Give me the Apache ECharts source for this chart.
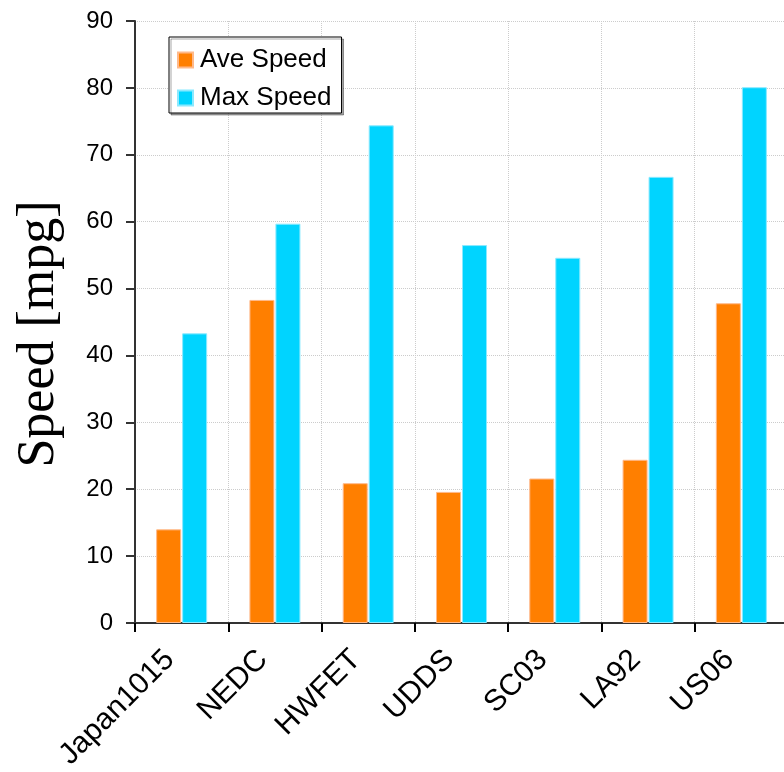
<!DOCTYPE html>
<html>
<head>
<meta charset="utf-8">
<script src="https://cdn.jsdelivr.net/npm/echarts@6/dist/echarts.min.js"></script>
<style>
html,body{margin:0;padding:0;background:#fff;}
#chart{width:784px;height:772px;}
</style>
</head>
<body>
<div id="chart"></div>
<script>
const categories = ['Japan1015', 'NEDC', 'HWFET', 'UDDS', 'SC03', 'LA92', 'US06'];
const aveSpeed = [14.0, 48.3, 20.9, 19.6, 21.6, 24.4, 47.8];
const maxSpeed = [43.3, 59.7, 74.4, 56.5, 54.6, 66.7, 80.1];
const yTicks = { min: 0, max: 90, interval: 10 };

const chart = echarts.init(document.getElementById('chart'), null, { renderer: 'canvas' });
const font = '"Liberation Sans", Arial, sans-serif';
chart.setOption({
  animation: false,
  backgroundColor: '#ffffff',
  grid: { left: 135, top: 21, width: 653, bottom: 149, containLabel: false, outerBoundsMode: 'none' },
  legend: {
    left: 169, top: 37,
    orient: 'vertical',
    itemWidth: 15, itemHeight: 15, itemGap: 12,
    padding: [10, 10, 2, 8],
    borderColor: '#000', borderWidth: 1,
    backgroundColor: '#fff',
    shadowColor: 'rgba(0,0,0,0.35)', shadowOffsetX: 2, shadowOffsetY: 2, shadowBlur: 0,
    icon: 'rect',
    textStyle: { fontFamily: font, fontSize: 26, color: '#000', padding: [0, 0, 0, 2] },
    data: ['Ave Speed', 'Max Speed']
  },
  xAxis: {
    type: 'category',
    data: categories,
    boundaryGap: true,
    axisLine: { lineStyle: { color: '#333', width: 2 } },
    axisTick: { show: true, length: 9, alignWithLabel: false, lineStyle: { color: '#000', width: 2 } },
    axisLabel: {
      rotate: 45, margin: 20, interval: 0,
      formatter: function (v) { return '{t|' + v + '}{s|}'; },
      rich: {
        t: { fontFamily: font, fontSize: 30, color: '#000' },
        s: { width: 17, fontSize: 30 }
      }
    },
    splitLine: { show: true, interval: 0, lineStyle: { color: '#cccccc', type: 'dotted', width: 1 } }
  },
  yAxis: {
    type: 'value',
    min: yTicks.min, max: yTicks.max, interval: yTicks.interval,
    name: 'Speed [mpg]',
    nameLocation: 'middle',
    nameGap: 70,
    nameTextStyle: { fontFamily: '"Liberation Serif", "Times New Roman", serif', fontSize: 52, color: '#000', padding: [0, 24, 0, 0] },
    axisLine: { show: true, lineStyle: { color: '#333', width: 2 } },
    axisTick: { show: true, length: 9, lineStyle: { color: '#333', width: 2 } },
    axisLabel: { margin: 22, fontFamily: font, fontSize: 24, color: '#000' },
    splitLine: { show: true, lineStyle: { color: '#cccccc', type: 'dotted', width: 1 } }
  },
  series: [
    {
      name: 'Ave Speed', type: 'bar', data: aveSpeed,
      barWidth: 25, barGap: '4%',
      itemStyle: { color: '#FF7F00', borderColor: '#FFB98A', borderWidth: 1 }
    },
    {
      name: 'Max Speed', type: 'bar', data: maxSpeed,
      barWidth: 25, barGap: '4%',
      itemStyle: { color: '#00D4FF', borderColor: '#8AE9FF', borderWidth: 1 }
    }
  ]
});
</script>
</body>
</html>
